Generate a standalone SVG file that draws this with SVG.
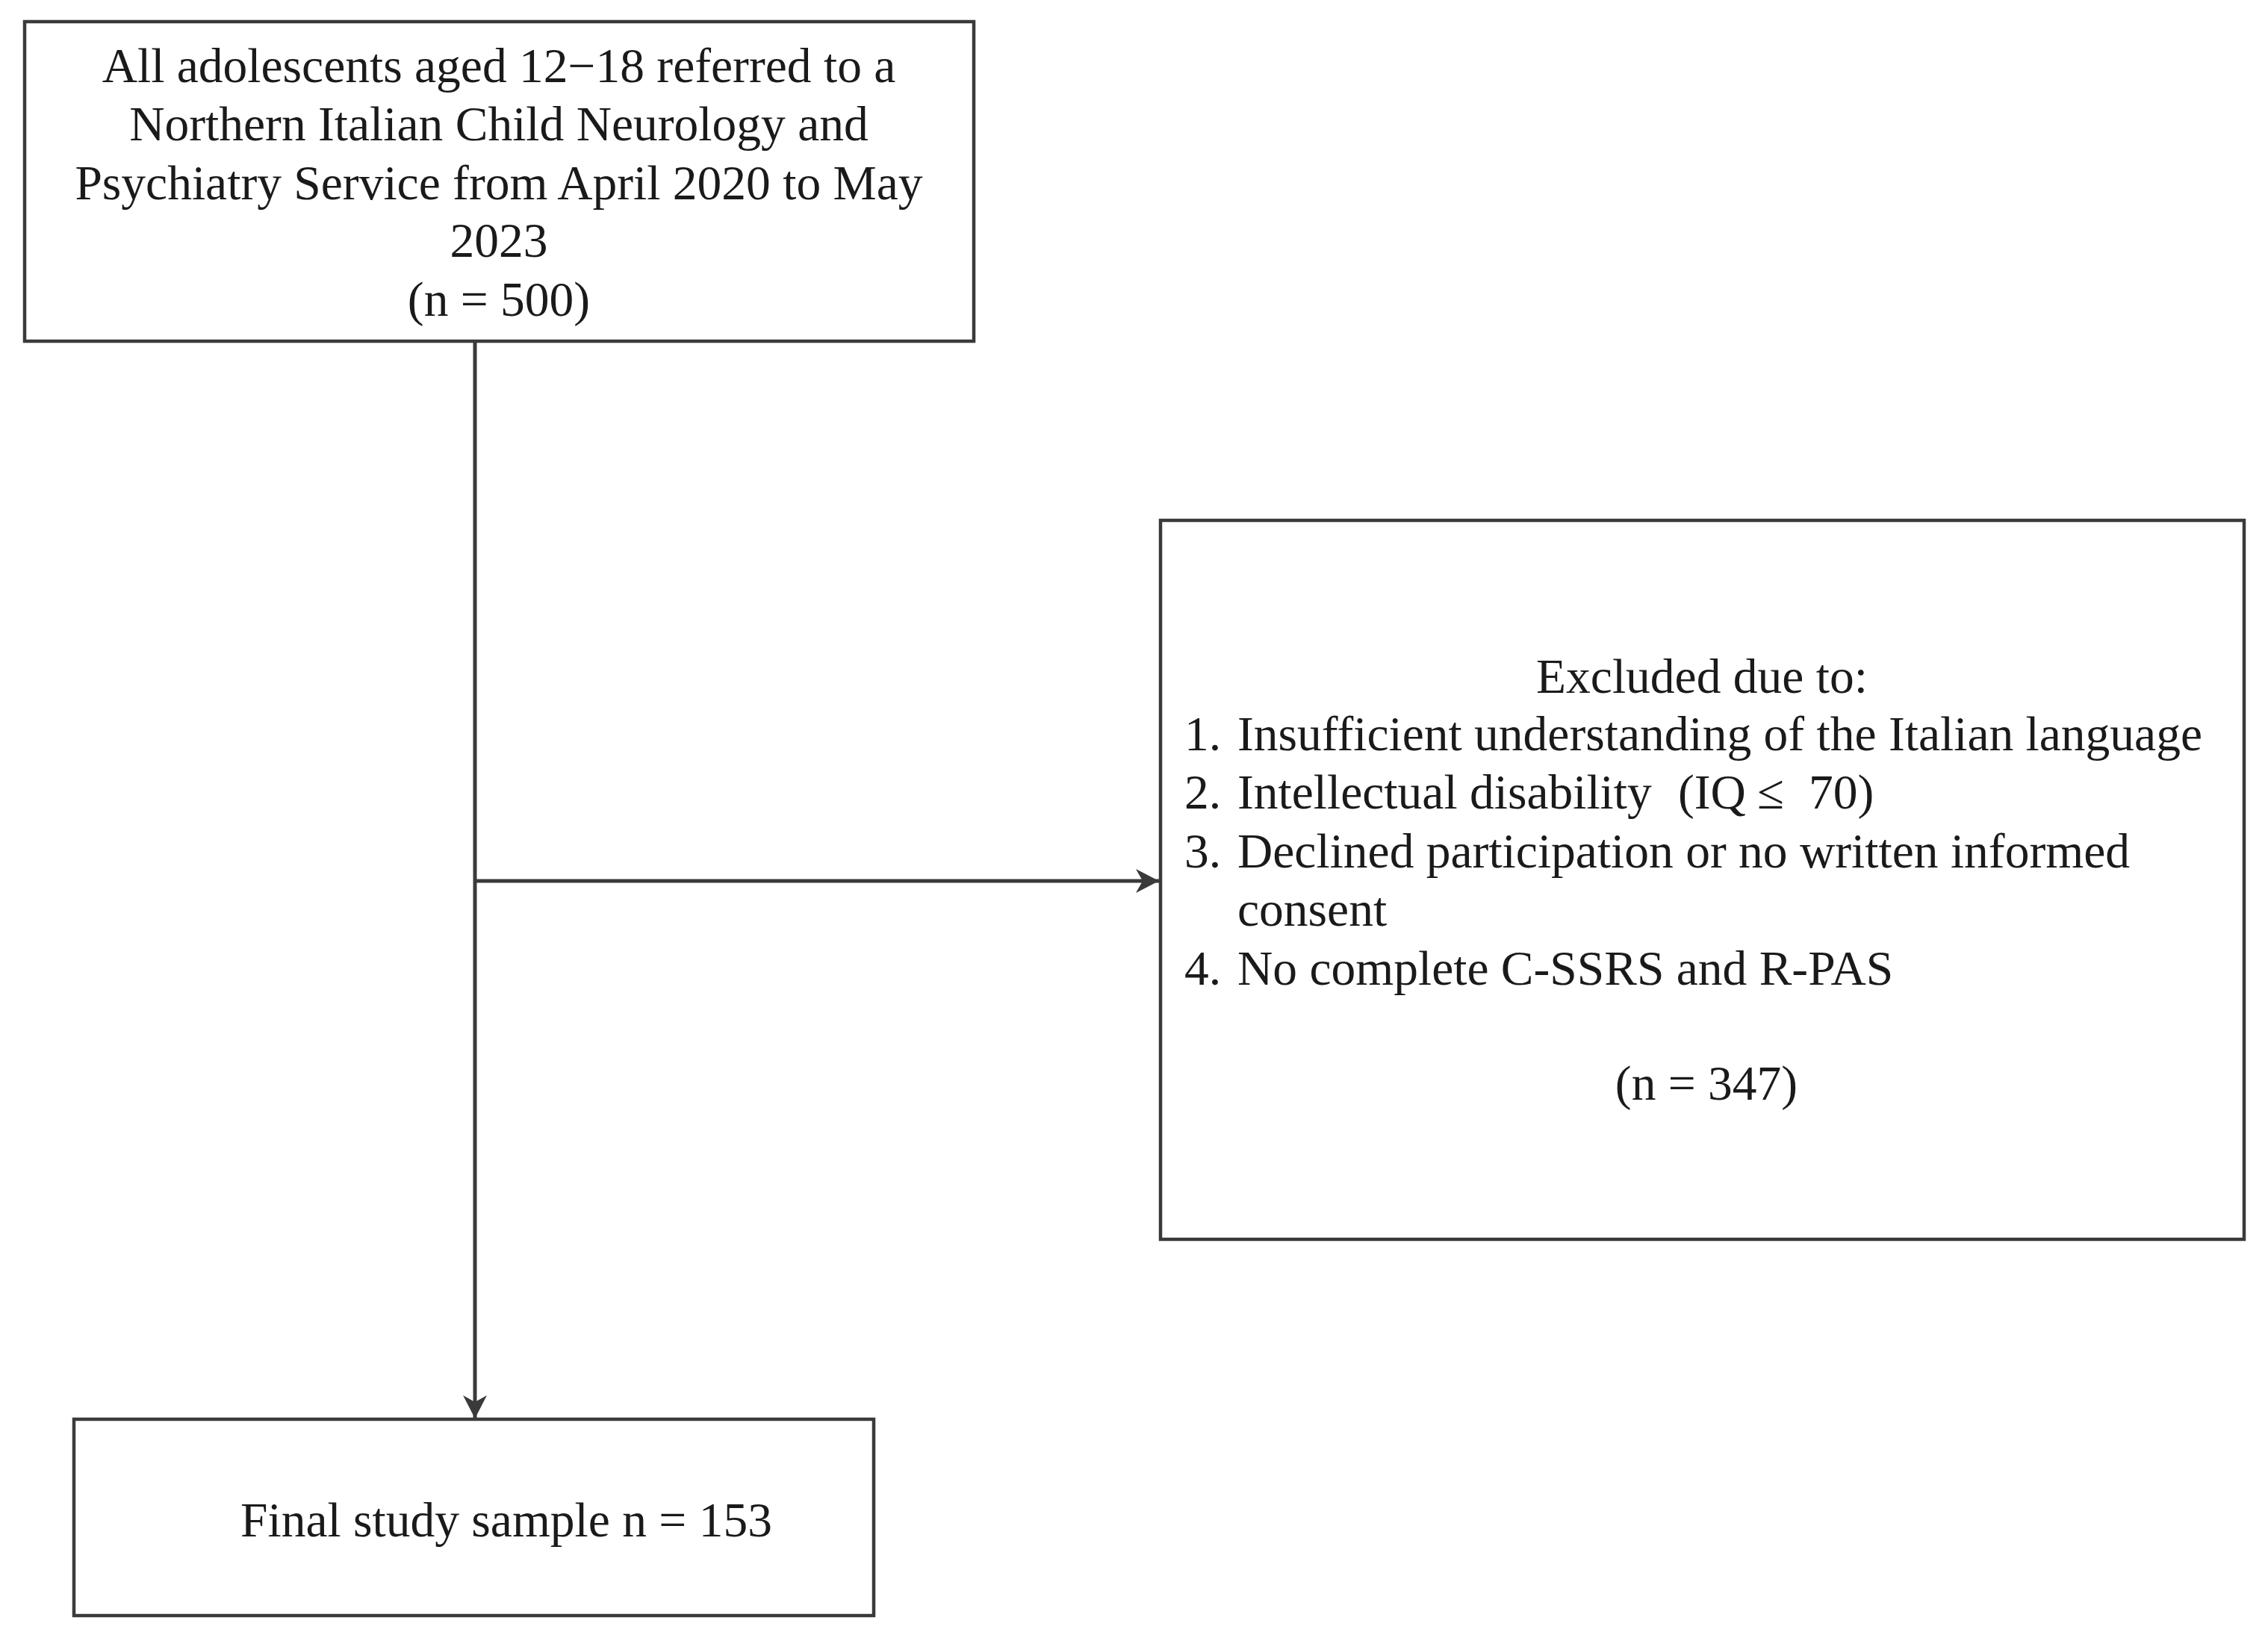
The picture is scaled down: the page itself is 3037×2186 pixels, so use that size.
<svg xmlns="http://www.w3.org/2000/svg" width="3037" height="2186" viewBox="0 0 3037 2186">
<defs>
<style>
.box{fill:#fff;stroke:#3a3a3a;stroke-width:4.5}
.t{font-family:"Liberation Serif","Times New Roman",serif;font-size:65.5px;fill:#1a1a1a}
.c{text-anchor:middle}
.ln{stroke:#3a3a3a;stroke-width:5;fill:none}
</style>
<marker id="ah" markerUnits="userSpaceOnUse" markerWidth="34" markerHeight="34" refX="31" refY="17" orient="auto">
<path d="M0,1 L31,17 L0,33 L9,17 Z" fill="#3a3a3a"/>
</marker>
</defs>
<rect width="3037" height="2186" fill="#fff"/>
<g id="connectors">
<line class="ln" x1="636" y1="457" x2="636" y2="1900" marker-end="url(#ah)"/>
<line class="ln" x1="636" y1="1180" x2="1552" y2="1180" marker-end="url(#ah)"/>
</g>
<g id="node-all">
<rect class="box" x="33" y="29" width="1271" height="428"/>
<text class="t c" x="668" y="110">All adolescents aged 12−18 referred to a</text>
<text class="t c" x="668" y="188">Northern Italian Child Neurology and</text>
<text class="t c" x="668" y="267">Psychiatry Service from April 2020 to May</text>
<text class="t c" x="668" y="344">2023</text>
<text class="t c" x="668" y="423">(n = 500)</text>
</g>
<g id="node-excluded">
<rect class="box" x="1554" y="697" width="1451" height="963"/>
<text class="t c" x="2279" y="928">Excluded due to:</text>
<text class="t" x="1586" y="1005">1.</text>
<text class="t" x="1657" y="1005">Insufficient understanding of the Italian language</text>
<text class="t" x="1586" y="1083">2.</text>
<text class="t" x="1657" y="1083">Intellectual disability</text>
<text class="t" x="2247" y="1083">(IQ</text>
<text class="t" x="2353" y="1083">≤</text>
<text class="t" x="2422" y="1083">70)</text>
<text class="t" x="1586" y="1162">3.</text>
<text class="t" x="1657" y="1162">Declined participation or no written informed</text>
<text class="t" x="1657" y="1240">consent</text>
<text class="t" x="1586" y="1319">4.</text>
<text class="t" x="1657" y="1319">No complete C-SSRS and R-PAS</text>
<text class="t c" x="2285" y="1473">(n = 347)</text>
</g>
<g id="node-final">
<rect class="box" x="99" y="1901" width="1071" height="263"/>
<text class="t" x="322" y="2058">Final study sample n = 153</text>
</g>
</svg>
